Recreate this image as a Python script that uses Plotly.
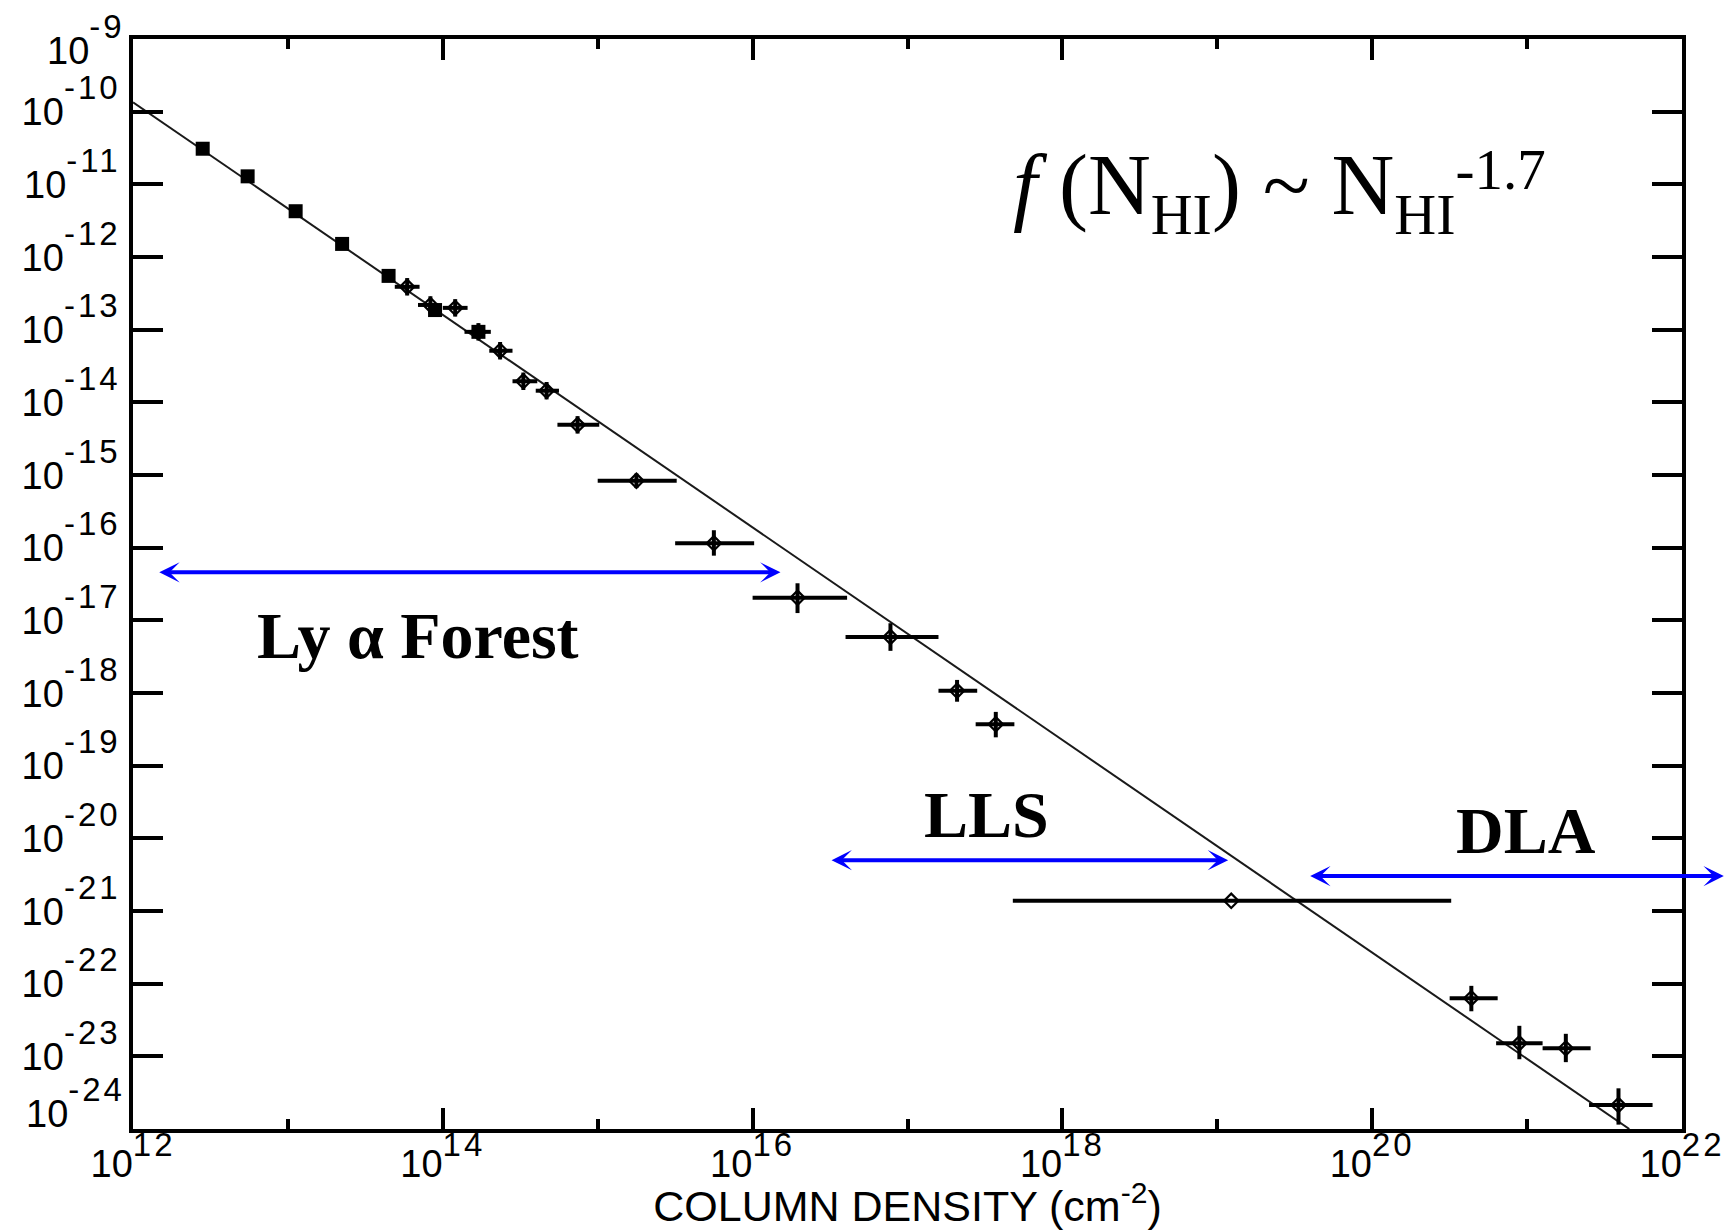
import numpy as np
import plotly.graph_objects as go

# ---- measured distribution f(N_HI), all values as log10 ----
# low column density bins (filled squares, no error bars)
sq_logN = [12.45, 12.74, 13.05, 13.35, 13.65, 13.95, 14.23]
sq_logf = [-10.51, -10.89, -11.37, -11.82, -12.26, -12.73, -13.03]

# binned measurements with errors (open diamonds)
dm_logN = [13.77, 13.92, 14.08, 14.23, 14.37, 14.52, 14.67, 14.87, 15.25,
           15.75, 16.29, 16.89, 17.32, 17.57, 19.09,
           20.64, 20.95, 21.25, 21.59]
dm_logf = [-12.41, -12.66, -12.70, -13.03, -13.29, -13.71, -13.84, -14.31, -15.08,
           -15.94, -16.69, -17.23, -17.97, -18.43, -20.86,
           -22.20, -22.82, -22.89, -23.67]
dm_logN_lo = [13.69, 13.84, 14.00, 14.14, 14.30, 14.45, 14.60, 14.74, 15.00,
              15.50, 16.00, 16.60, 17.20, 17.44, 17.68,
              20.50, 20.80, 21.10, 21.40]
dm_logN_hi = [13.85, 13.97, 14.16, 14.31, 14.45, 14.61, 14.75, 15.01, 15.51,
              16.01, 16.61, 17.20, 17.45, 17.69, 20.51,
              20.81, 21.10, 21.41, 21.81]
dm_logf_lo = [-12.53, -12.78, -12.82, -13.15, -13.41, -13.83, -13.96, -14.43, -15.18,
              -16.11, -16.90, -17.42, -18.12, -18.61, -20.86,
              -22.38, -23.04, -23.08, -23.94]
dm_logf_hi = [-12.29, -12.54, -12.58, -12.91, -13.17, -13.59, -13.72, -14.19, -14.98,
              -15.76, -16.49, -17.04, -17.82, -18.26, -20.86,
              -22.03, -22.58, -22.69, -23.44]

# power-law fit line (end points, log10)
fit_logN = [12.0, 21.66]
fit_logf = [-9.87, -24.0]

# absorber regimes: name, log N range and height of the range arrow
regime_names = ["Ly α Forest", "LLS", "DLA"]
regime_lo = [12.16, 16.50, 19.59]
regime_hi = [16.18, 19.07, 22.27]
regime_logf = [-16.34, -20.30, -20.52]

# axis ticks
x_major = [12, 14, 16, 18, 20, 22]
x_minor = [13, 15, 17, 19, 21]
y_decades = list(range(-24, -8))
y_end_decades = [-24, -9]          # end labels are tucked inside the frame height

# ---- derived arrays for the library ----
N_sq = 10.0 ** np.array(sq_logN)
f_sq = 10.0 ** np.array(sq_logf)
N_dm = 10.0 ** np.array(dm_logN)
f_dm = 10.0 ** np.array(dm_logf)
ex_plus = 10.0 ** np.array(dm_logN_hi) - N_dm
ex_minus = N_dm - 10.0 ** np.array(dm_logN_lo)
ey_plus = 10.0 ** np.array(dm_logf_hi) - f_dm
ey_minus = f_dm - 10.0 ** np.array(dm_logf_lo)


def power_label(exp, base_px, sup_px, spacing):
    """'10' with a wide, raised exponent (rise set by the surrounding font size)."""
    return (f'<span style="font-size:{base_px}px">10</span>'
            f'<sup><span style="font-size:{sup_px}px;letter-spacing:{spacing}px">'
            f'{exp}</span></sup>')


fig = go.Figure()

fig.add_trace(go.Scatter(
    x=10.0 ** np.array(fit_logN), y=10.0 ** np.array(fit_logf),
    mode="lines", line=dict(color="#1a1a1a", width=2),
    hoverinfo="skip"))

fig.add_trace(go.Scatter(
    x=N_dm, y=f_dm, mode="markers",
    marker=dict(symbol="diamond-open", size=11, color="black",
                line=dict(color="black", width=2.2)),
    error_x=dict(type="data", array=ex_plus, arrayminus=ex_minus,
                 color="black", thickness=4, width=0),
    error_y=dict(type="data", array=ey_plus, arrayminus=ey_minus,
                 color="black", thickness=4, width=0)))

fig.add_trace(go.Scatter(
    x=N_sq, y=f_sq, mode="markers",
    marker=dict(symbol="square", size=14, color="black")))

BLUE = "#0000ff"
for lo, hi, lf in zip(regime_lo, regime_hi, regime_logf):
    fig.add_annotation(
        x=hi, y=lf, ax=lo, ay=lf, xref="x", yref="y", axref="x", ayref="y",
        text="", showarrow=True, arrowside="end+start",
        arrowhead=3, startarrowhead=3, arrowsize=0.85, startarrowsize=0.85,
        arrowwidth=4, arrowcolor=BLUE)

serif_bold = dict(family="Liberation Serif", size=66, color="black")
label_pos = {"Ly α Forest": (13.84, -17.21), "LLS": (17.51, -19.67), "DLA": (20.99, -19.89)}
for name in regime_names:
    lx, ly = label_pos[name]
    fig.add_annotation(x=lx, y=ly, xref="x", yref="y", text=f"<b>{name}</b>",
                       showarrow=False, font=serif_bold,
                       xanchor="center", yanchor="middle")

sub_hi = ('<span style="font-size:95px"><sub>'
          '<span style="font-size:58px">HI</span></sub></span>')
sup_exp = ('<span style="font-size:60px"><sup>'
           '<span style="font-size:57px">-1.7</span></sup></span>')
fig.add_annotation(
    x=19.40, y=-11.1, xref="x", yref="y",
    text=f"<i>f</i> (N{sub_hi}) ~ N{sub_hi}{sup_exp}",
    showarrow=False, xanchor="center", yanchor="middle",
    font=dict(family="Liberation Serif", size=87, color="black"))

y_tick_font = dict(family="Liberation Sans", size=62, color="black")

# labels of the two end decades, nudged inward so they stay on the page
end_shift = {-9: -1, -24: 26}
for k in y_end_decades:
    fig.add_annotation(
        x=0, xref="paper", y=k, yref="y",
        text=power_label(k, 38, 33, 3), showarrow=False,
        xanchor="right", yanchor="middle", xshift=-6, yshift=end_shift[k],
        font=y_tick_font)

fig.update_xaxes(
    type="log", range=[12, 22],
    tickmode="array",
    tickvals=[10.0 ** k for k in x_major],
    ticktext=[power_label(k, 38, 33, 3) for k in x_major],
    tickangle=0, ticklabelstandoff=-18, ticklabeloverflow="allow",
    ticks="inside", ticklen=21, tickwidth=3.5, tickcolor="black",
    minor=dict(tickmode="array", tickvals=[10.0 ** k for k in x_minor],
               ticks="inside", ticklen=10, tickwidth=3.5, tickcolor="black",
               showgrid=False),
    showline=True, linewidth=4, linecolor="black", mirror="allticks",
    showgrid=False, zeroline=False,
    tickfont=dict(family="Liberation Sans", size=52, color="black"),
    title=dict(text="COLUMN DENSITY (cm<sup>-2</sup>)",
               font=dict(family="Liberation Sans", size=43, color="black"),
               standoff=4))

fig.update_yaxes(
    type="log", range=[-24, -9],
    tickmode="array",
    tickvals=[10.0 ** k for k in y_decades],
    ticktext=["" if k in y_end_decades else power_label(k, 38, 33, 3)
              for k in y_decades],
    ticklabelshift=-8, ticklabelstandoff=-4, ticklabeloverflow="allow",
    ticks="inside", ticklen=30, tickwidth=3.5, tickcolor="black",
    showline=True, linewidth=4, linecolor="black", mirror="allticks",
    showgrid=False, zeroline=False,
    tickfont=y_tick_font)

fig.update_layout(
    width=1735, height=1230,
    margin=dict(l=133, r=53, t=39, b=101, autoexpand=False),
    plot_bgcolor="white", paper_bgcolor="white",
    showlegend=False)

fig.write_html("out.html")
